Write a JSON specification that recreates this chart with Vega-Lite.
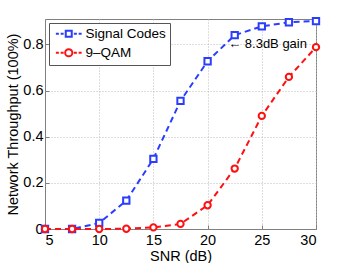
{
  "$schema": "https://vega.github.io/schema/vega-lite/v6.json",
  "autosize": "none",
  "width": 271,
  "height": 210,
  "padding": {"left": 45, "top": 19, "right": 33, "bottom": 34},
  "background": "white",
  "config": {
    "font": "Liberation Sans",
    "view": {"stroke": "#808080", "strokeWidth": 1},
    "axis": {
      "labelFont": "Liberation Sans", "titleFont": "Liberation Sans",
      "labelFontSize": 14.5, "titleFontSize": 14.5, "titleFontWeight": "normal",
      "labelColor": "#000", "titleColor": "#000",
      "gridColor": "#bbbbbb", "gridDash": [1, 2], "gridWidth": 1,
      "domainColor": "#808080", "tickColor": "#808080", "tickSize": -4
    }
  },
  "datasets": {
    "series": [
      {"snr": 5, "tp": 0.0, "scheme": "Signal Codes"},
      {"snr": 7.5, "tp": 0.0, "scheme": "Signal Codes"},
      {"snr": 10, "tp": 0.026, "scheme": "Signal Codes"},
      {"snr": 12.5, "tp": 0.123, "scheme": "Signal Codes"},
      {"snr": 15, "tp": 0.304, "scheme": "Signal Codes"},
      {"snr": 17.5, "tp": 0.555, "scheme": "Signal Codes"},
      {"snr": 20, "tp": 0.727, "scheme": "Signal Codes"},
      {"snr": 22.5, "tp": 0.84, "scheme": "Signal Codes"},
      {"snr": 25, "tp": 0.878, "scheme": "Signal Codes"},
      {"snr": 27.5, "tp": 0.896, "scheme": "Signal Codes"},
      {"snr": 30, "tp": 0.901, "scheme": "Signal Codes"},
      {"snr": 5, "tp": 0.0, "scheme": "9\u2013QAM"},
      {"snr": 7.5, "tp": 0.0, "scheme": "9\u2013QAM"},
      {"snr": 10, "tp": 0.0, "scheme": "9\u2013QAM"},
      {"snr": 12.5, "tp": 0.001, "scheme": "9\u2013QAM"},
      {"snr": 15, "tp": 0.007, "scheme": "9\u2013QAM"},
      {"snr": 17.5, "tp": 0.022, "scheme": "9\u2013QAM"},
      {"snr": 20, "tp": 0.103, "scheme": "9\u2013QAM"},
      {"snr": 22.5, "tp": 0.262, "scheme": "9\u2013QAM"},
      {"snr": 25, "tp": 0.49, "scheme": "9\u2013QAM"},
      {"snr": 27.5, "tp": 0.659, "scheme": "9\u2013QAM"},
      {"snr": 30, "tp": 0.788, "scheme": "9\u2013QAM"}
    ],
    "notes": [
      {"snr": 21.9, "tp": 0.8, "label": "\u2190  8.3dB gain"}
    ]
  },
  "layer": [
    {
      "data": {"name": "series"},
      "mark": {"type": "line", "strokeDash": [6, 4], "strokeWidth": 2},
      "encoding": {
        "x": {"field": "snr", "type": "quantitative",
          "scale": {"domain": [5, 30], "nice": false},
          "axis": {"values": [5, 10, 15, 20, 25, 30], "title": "SNR (dB)", "labelPadding": 8, "titlePadding": 3}},
        "y": {"field": "tp", "type": "quantitative",
          "scale": {"domain": [0, 0.91], "nice": false},
          "axis": {"values": [0, 0.2, 0.4, 0.6, 0.8], "title": "Network Throughput (100%)",
            "labelExpr": "datum.value == 0 ? '0' : format(datum.value, '.1f')", "labelPadding": 6, "titlePadding": 2}},
        "color": {"field": "scheme", "type": "nominal",
          "scale": {"domain": ["Signal Codes", "9\u2013QAM"], "range": ["#2a3dff", "#ff1010"]},
          "legend": {
            "title": null, "orient": "none", "legendX": 4, "legendY": 4,
            "strokeColor": "#555", "fillColor": "white", "padding": 4,
            "labelFontSize": 13.5, "labelFont": "Liberation Sans", "labelColor": "#000",
            "symbolSize": 36, "symbolStrokeWidth": 2, "symbolFillColor": "white", "symbolDash": [],
            "symbolOffset": 9, "labelOffset": 10, "rowPadding": 4,
            "encode": {"symbols": {"update": {
              "shape": {"signal": "datum.value === 'Signal Codes' ? 'M-4.3,0H-3.3M-2.7,0H-1.7M1.7,0H2.7M3.3,0H4.3M-1,-1H1V1H-1Z' : 'M-4.3,0H-3.3M-2.7,0H-1.7M1.7,0H2.7M3.3,0H4.3M-1.2,0A1.2,1.2 0 1,1 1.2,0A1.2,1.2 0 1,1 -1.2,0Z'"},
              "fill": {"value": "white"},
              "strokeDash": {"value": []}
            }}}
          }}
      }
    },
    {
      "data": {"name": "series"},
      "transform": [{"filter": "datum.scheme === 'Signal Codes'"}],
      "mark": {"type": "point", "shape": "square", "filled": false, "fill": "white", "fillOpacity": 1, "strokeWidth": 2, "size": 40, "opacity": 1},
      "encoding": {
        "x": {"field": "snr", "type": "quantitative"},
        "y": {"field": "tp", "type": "quantitative"},
        "color": {"field": "scheme", "type": "nominal"}
      }
    },
    {
      "data": {"name": "series"},
      "transform": [{"filter": "datum.scheme !== 'Signal Codes'"}],
      "mark": {"type": "point", "shape": "circle", "filled": false, "fill": "white", "fillOpacity": 1, "strokeWidth": 2, "size": 40, "opacity": 1},
      "encoding": {
        "x": {"field": "snr", "type": "quantitative"},
        "y": {"field": "tp", "type": "quantitative"},
        "color": {"field": "scheme", "type": "nominal"}
      }
    },
    {
      "data": {"name": "notes"},
      "mark": {"type": "text", "align": "left", "baseline": "middle", "fontSize": 13, "font": "Liberation Sans", "color": "#000"},
      "encoding": {
        "x": {"field": "snr", "type": "quantitative"},
        "y": {"field": "tp", "type": "quantitative"},
        "text": {"field": "label"}
      }
    }
  ]
}
